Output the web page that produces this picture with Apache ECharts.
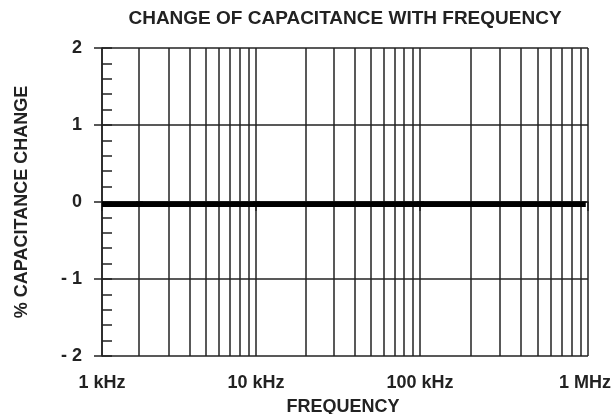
<!DOCTYPE html>
<html>
<head>
<meta charset="utf-8">
<script src="https://cdn.jsdelivr.net/npm/echarts@6/dist/echarts.min.js"></script>
<style>
  html, body { margin: 0; padding: 0; background: #fff; }
  #chart { width: 613px; height: 414px; }
</style>
</head>
<body>
<div id="chart"></div>
<script>
// frequency (Hz) and % capacitance change of the curve
const freqs = [1000, 10000, 100000, 970000];
const capChange = [-0.03, -0.03, -0.03, -0.03];
// decade ticks and their labels
const decades = [1000, 10000, 100000, 1000000];
const xTickLabels = ['1 kHz', '10 kHz', '100 kHz', '1 MHz'];
const yTickLabels = { '2': '2', '1': '1', '0': '0', '-1': '- 1', '-2': '- 2' };
// multipliers for the log grid lines inside each decade
const minorSteps = [2, 3, 4, 5, 6, 7, 8, 9];

var chartDom = document.getElementById('chart');
var myChart = echarts.init(chartDom);
const ink = '#222';
const font = 'Liberation Sans, Arial, sans-serif';
const txt = { fontFamily: font, fontWeight: 'bold', fontSize: 18, color: ink };

// the printed log paper is uneven (1k-2k is squeezed), so the x range
// is split into pieces, each one a proper log axis
const pieces = [[1000, 2000], [2000, 10000], [10000, 100000], [100000, 1000000]];
const pieceLeft = [102, 139, 256, 420];
const pieceWidth = [37, 117, 164, 168];

let grids = [], xAxes = [], yAxes = [], series = [];
pieces.forEach(function (p, i) {
    const lo = p[0], hi = p[1];
    const last = i === pieces.length - 1;
    const majors = decades.filter(function (d) { return i === 0 ? d === lo : (d > lo && d <= hi); });
    const minors = [];
    decades.forEach(function (d) {
        minorSteps.forEach(function (m) {
            if (d * m > lo && d * m <= hi) minors.push(d * m);
        });
    });
    grids.push({
        left: pieceLeft[i], width: pieceWidth[i], top: 48, bottom: 58,
        containLabel: false, outerBoundsMode: 'none'
    });
    xAxes.push({
        type: 'log',
        logBase: 10,
        gridIndex: i,
        min: lo,
        max: hi,
        axisLine: { lineStyle: { color: ink, width: 1.5 } },
        axisTick: { show: true, length: 9, customValues: majors, lineStyle: { color: ink, width: 1.5 } },
        axisLabel: Object.assign({
            margin: 18,
            customValues: majors,
            padding: last ? [0, 6, 0, 0] : 0,
            formatter: function (v) {
                return xTickLabels[decades.indexOf(Math.round(v))] || '';
            }
        }, txt),
        splitLine: { show: true, lineStyle: { color: ink, width: 1.5 } }
    });
    yAxes.push({
        type: 'value',
        gridIndex: i,
        min: -2,
        max: 2,
        interval: 1,
        axisLine: { show: i === 0, lineStyle: { color: ink, width: 1.5 } },
        axisTick: { show: i === 0, length: 8, lineStyle: { color: ink, width: 1.5 } },
        axisLabel: Object.assign({
            show: i === 0,
            margin: 20,
            formatter: function (v) { return yTickLabels[String(v)]; }
        }, txt),
        splitLine: { show: true, lineStyle: { color: ink, width: 1.5 } }
    });
    series.push({
        type: 'line',
        xAxisIndex: i,
        yAxisIndex: i,
        data: freqs.map(function (f, k) { return [f, capChange[k]]; }),
        clip: true,
        symbol: 'none',
        lineStyle: { color: '#000', width: 5.5, cap: 'butt' },
        z: 5,
        markLine: {
            silent: true,
            symbol: 'none',
            label: { show: false },
            lineStyle: { color: ink, width: 1.5, type: 'solid' },
            data: minors.map(function (f) { return { xAxis: f }; })
        }
    });
});
// name of the value axis
yAxes[0].name = '% CAPACITANCE CHANGE';
yAxes[0].nameLocation = 'middle';
yAxes[0].nameGap = 71;
yAxes[0].nameTextStyle = txt;
// inner minor ticks on the left edge
yAxes.push({
    type: 'value',
    gridIndex: 0,
    position: 'left',
    min: -2,
    max: 2,
    interval: 0.2,
    axisLine: { show: false },
    axisTick: { show: true, inside: true, length: 10, lineStyle: { color: ink, width: 1.5 } },
    axisLabel: { show: false },
    splitLine: { show: false }
});

var option = {
    animation: false,
    title: [
        {
            text: 'CHANGE OF CAPACITANCE WITH FREQUENCY',
            left: 345,
            top: 9,
            padding: 0,
            textAlign: 'center',
            textStyle: { fontFamily: font, fontWeight: 'bold', fontSize: 19, color: ink }
        },
        {
            text: 'FREQUENCY',
            left: 343,
            top: 398,
            padding: 0,
            textAlign: 'center',
            textStyle: txt
        }
    ],
    grid: grids,
    xAxis: xAxes,
    yAxis: yAxes,
    series: series
};
option && myChart.setOption(option);
</script>
</body>
</html>
